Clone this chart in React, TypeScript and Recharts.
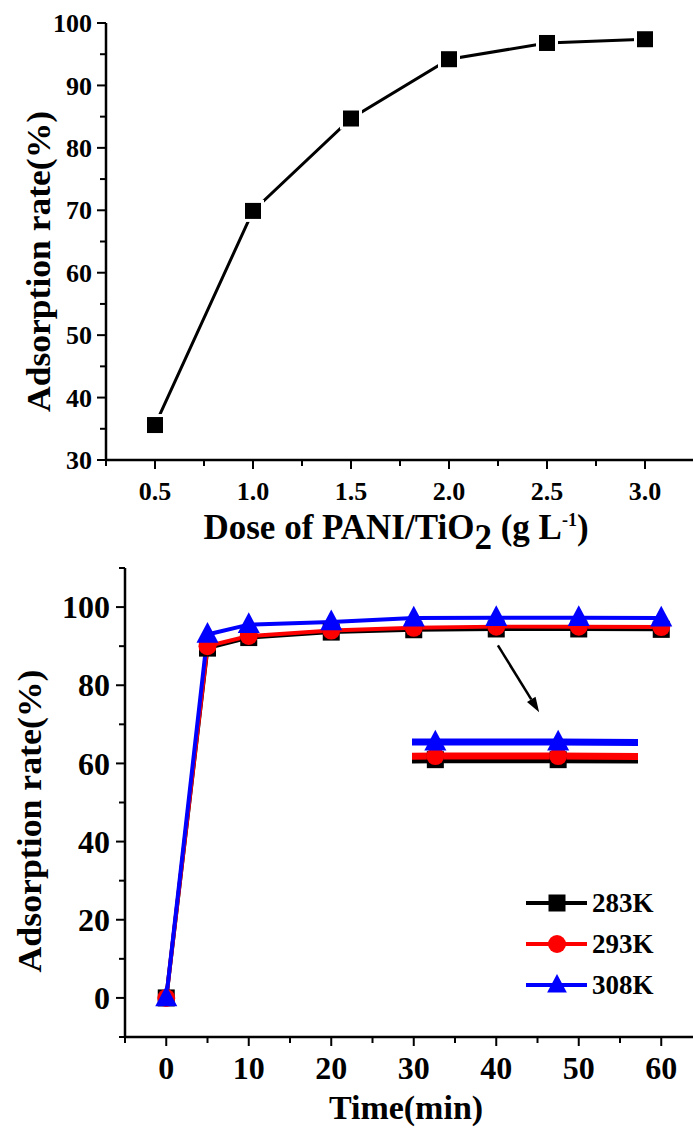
import React from 'react';
import { LineChart, Line, XAxis, YAxis, Label, Legend, ReferenceLine } from 'recharts';

// (a) adsorption rate vs. adsorbent dose
const doseValues = [0.5, 1.0, 1.5, 2.0, 2.5, 3.0];
const doseRate = [35.6, 69.9, 84.7, 94.2, 96.8, 97.4];
const doseTicks = [0.25, 0.5, 0.75, 1.0, 1.25, 1.5, 1.75, 2.0, 2.25, 2.5, 2.75, 3.0, 3.25];
const doseMajor = [0.5, 1.0, 1.5, 2.0, 2.5, 3.0];
const rateTicksA = [30, 35, 40, 45, 50, 55, 60, 65, 70, 75, 80, 85, 90, 95, 100];
const rateMajorA = [30, 40, 50, 60, 70, 80, 90, 100];

// (b) adsorption rate vs. contact time at three temperatures
const timeValues = [0, 5, 10, 20, 30, 40, 50, 60];
const rate283 = [0, 89.5, 92.2, 93.6, 94.2, 94.4, 94.4, 94.3];
const rate293 = [0, 90.0, 92.6, 94.0, 94.7, 95.0, 95.0, 94.9];
const rate308 = [0, 93.0, 95.5, 96.2, 97.2, 97.3, 97.3, 97.2];
const seriesNames = ['283K', '293K', '308K'];
const timeTicks = [-5, 0, 5, 10, 15, 20, 25, 30, 35, 40, 45, 50, 55, 60, 65];
const timeMajor = [0, 10, 20, 30, 40, 50, 60];
const rateTicksB = [-10, 0, 10, 20, 30, 40, 50, 60, 70, 80, 90, 100, 110];
const rateMajorB = [0, 20, 40, 60, 80, 100];

// zoomed detail window and the arrow pointing at it
const zoomTime = [38.1, 56.5];
const zoomRate = [91.06, 104.2];
const arrowFrom = { x: 40.2, y: 90.2 };
const arrowTo = { x: 45.2, y: 73.1 };

const doseData = doseValues.map((d, i) => ({ dose: d, rate: doseRate[i] }));
const timeData = timeValues.map((t, i) => ({ time: t, k283: rate283[i], k293: rate293[i], k308: rate308[i] }));

const FONT = '"Liberation Serif", "Times New Roman", "Noto Sans CJK SC", serif';
const BLACK = '#000000';
const RED = '#ff0000';
const BLUE = '#0000ff';

const fmtDose = (v: number) => v.toFixed(1);
const fmtInt = (v: number) => String(v);

const makeXTick = (majors: number[], fontSize: number, labelDy: number, fmt: (v: number) => string) =>
  (props: any) => {
    const { x, y, payload, index } = props;
    const isMajor = majors.includes(payload.value);
    return (
      <g key={`xt-${index}`}>
        <line x1={x} y1={y} x2={x} y2={y + (isMajor ? 9 : 6)} stroke={BLACK} strokeWidth={2} />
        {isMajor && (
          <text x={x} y={y + labelDy} textAnchor="middle" fontSize={fontSize} fontWeight="bold" fontFamily={FONT} fill={BLACK}>
            {fmt(payload.value)}
          </text>
        )}
      </g>
    );
  };

const makeYTick = (majors: number[], fontSize: number, gap: number, fmt: (v: number) => string) =>
  (props: any) => {
    const { x, y, payload, index } = props;
    const isMajor = majors.includes(payload.value);
    return (
      <g key={`yt-${index}`}>
        <line x1={x} y1={y} x2={x - (isMajor ? 9 : 6)} y2={y} stroke={BLACK} strokeWidth={2} />
        {isMajor && (
          <text x={x - gap} y={y} dy="0.35em" textAnchor="end" fontSize={fontSize} fontWeight="bold" fontFamily={FONT} fill={BLACK}>
            {fmt(payload.value)}
          </text>
        )}
      </g>
    );
  };

type MarkerKind = 'square' | 'circle' | 'triangle';

const marker = (kind: MarkerKind, cx: number, cy: number, color: string, s: number, key?: string) => {
  if (kind === 'square') return <rect key={key} x={cx - s / 2} y={cy - s / 2} width={s} height={s} fill={color} />;
  if (kind === 'circle') return <circle key={key} cx={cx} cy={cy} r={s / 2 + 0.5} fill={color} />;
  const h = s * 1.05;
  return (
    <polygon
      key={key}
      points={`${cx},${cy - h * 0.62} ${cx - s * 0.58},${cy + h * 0.42} ${cx + s * 0.58},${cy + h * 0.42}`}
      fill={color}
    />
  );
};

const dotOf = (kind: MarkerKind, color: string, s: number) => (p: any) => {
  const { cx, cy, index } = p;
  if (cx == null || cy == null) return <g key={`d-${index}`} />;
  return marker(kind, cx, cy, color, s, `d-${index}`);
};

// square with a white halo so the connecting line stops short of it
const haloSquare = (p: any) => {
  const { cx, cy, index } = p;
  if (cx == null || cy == null) return <g key={`h-${index}`} />;
  return (
    <g key={`h-${index}`}>
      <rect x={cx - 11} y={cy - 11} width={22} height={22} fill="#ffffff" />
      <rect x={cx - 8} y={cy - 8} width={16} height={16} fill={BLACK} />
    </g>
  );
};

const kindByKey: Record<string, MarkerKind> = { k283: 'square', k293: 'circle', k308: 'triangle' };

const TempLegend = (props: any) => {
  const { payload } = props;
  return (
    <svg width={170} height={125} style={{ display: 'block' }}>
      {(payload || []).map((e: any, i: number) => {
        const y = 20 + i * 41;
        return (
          <g key={e.value}>
            <line x1={6} y1={y} x2={67} y2={y} stroke={e.color} strokeWidth={4} />
            {marker(kindByKey[e.dataKey], 37, y, e.color, 17)}
            <text x={72} y={y} dy="0.35em" fontSize={27} fontWeight="bold" fontFamily={FONT} fill={BLACK}>
              {e.value}
            </text>
          </g>
        );
      })}
    </svg>
  );
};

const Arrow = (props: any) => {
  const { x1, y1, x2, y2 } = props;
  const ang = Math.atan2(y2 - y1, x2 - x1);
  const len = 15;
  const w = 5;
  const bx = x2 - len * Math.cos(ang);
  const by = y2 - len * Math.sin(ang);
  const px = -Math.sin(ang) * w;
  const py = Math.cos(ang) * w;
  return (
    <g>
      <line x1={x1} y1={y1} x2={bx} y2={by} stroke={BLACK} strokeWidth={2.5} />
      <polygon points={`${x2},${y2} ${bx + px},${by + py} ${bx - px},${by - py}`} fill={BLACK} />
    </g>
  );
};

const axisLine = { stroke: BLACK, strokeWidth: 2.5 };

const DosePanel = () => (
  <LineChart width={700} height={560} data={doseData} margin={{ top: 23, right: 6, bottom: 0, left: 0 }}>
    <XAxis
      dataKey="dose"
      type="number"
      domain={[0.25, 3.25]}
      ticks={doseTicks}
      interval={0}
      tickSize={0}
      tickMargin={0}
      tickLine={false}
      axisLine={axisLine}
      height={100}
      tick={makeXTick(doseMajor, 26, 40, fmtDose)}
    >
      <Label
        content={(p: any) => {
          const vb = p.viewBox;
          const cx = vb.x + vb.width / 2 - 4;
          const by = vb.y + 79;
          return (
            <text x={cx} y={by} textAnchor="middle" fontSize={35} fontWeight="bold" fontFamily={FONT} fill={BLACK}>
              <tspan>Dose of PANI/TiO</tspan>
              <tspan dy={10}>2</tspan>
              <tspan dy={-10}> (g L</tspan>
              <tspan dy={-13} fontSize={18}>-1</tspan>
              <tspan dy={13}>)</tspan>
            </text>
          );
        }}
      />
    </XAxis>
    <XAxis xAxisId="frame" orientation="top" dataKey="dose" type="number" domain={[0.25, 3.25]} tick={false} tickLine={false} axisLine={axisLine} height={0}>
      <Label
        content={(p: any) => (
          <text x={p.viewBox.x + 16} y={p.viewBox.y + 40} fontSize={32} fontWeight="bold" fontFamily={FONT} fill={BLACK}>
            a)
          </text>
        )}
      />
    </XAxis>
    <YAxis
      type="number"
      domain={[30, 100]}
      ticks={rateTicksA}
      interval={0}
      tickSize={0}
      tickMargin={0}
      tickLine={false}
      axisLine={axisLine}
      width={106}
      tick={makeYTick(rateMajorA, 26, 14, fmtInt)}
    >
      <Label
        content={(p: any) => {
          const vb = p.viewBox;
          const bx = 50;
          const cy = vb.y + vb.height / 2 + 20;
          return (
            <text x={bx} y={cy} transform={`rotate(-90, ${bx}, ${cy})`} textAnchor="middle" fontSize={34} fontWeight="bold" fontFamily={FONT} fill={BLACK} textLength={301} lengthAdjust="spacingAndGlyphs">
              Adsorption rate(%)
            </text>
          );
        }}
      />
    </YAxis>
    <YAxis yAxisId="frame" orientation="right" type="number" domain={[30, 100]} tick={false} tickLine={false} axisLine={{ stroke: BLACK, strokeWidth: 2 }} width={0} />
    <Line dataKey="rate" stroke={BLACK} strokeWidth={3} dot={haloSquare} activeDot={false} isAnimationActive={false} />
  </LineChart>
);

const TimePanel = () => (
  <LineChart width={720} height={591} data={timeData} margin={{ top: 28, right: 17.5, bottom: 0, left: 0 }}>
    <XAxis
      dataKey="time"
      type="number"
      domain={[-5, 65]}
      ticks={timeTicks}
      interval={0}
      tickSize={0}
      tickMargin={0}
      tickLine={false}
      axisLine={axisLine}
      height={94}
      tick={makeXTick(timeMajor, 32, 42, fmtInt)}
    >
      <Label
        content={(p: any) => (
          <text x={406} y={p.viewBox.y + 82} textAnchor="middle" fontSize={34} fontWeight="bold" fontFamily={FONT} fill={BLACK}>
            Time(min)
          </text>
        )}
      />
    </XAxis>
    <XAxis xAxisId="frame" orientation="top" dataKey="time" type="number" domain={[-5, 65]} tick={false} tickLine={false} axisLine={axisLine} height={0}>
      <Label
        content={(p: any) => (
          <text x={p.viewBox.x + 23} y={p.viewBox.y + 45} fontSize={30} fontWeight="bold" fontFamily={FONT} fill={BLACK}>
            b）
          </text>
        )}
      />
    </XAxis>
    <YAxis
      type="number"
      domain={[-10, 110]}
      ticks={rateTicksB}
      interval={0}
      tickSize={0}
      tickMargin={0}
      tickLine={false}
      axisLine={axisLine}
      width={125}
      tick={makeYTick(rateMajorB, 32, 15, fmtInt)}
    >
      <Label
        content={(p: any) => {
          const vb = p.viewBox;
          const bx = 41;
          const cy = vb.y + vb.height / 2 + 18.5;
          return (
            <text x={bx} y={cy} transform={`rotate(-90, ${bx}, ${cy})`} textAnchor="middle" fontSize={34} fontWeight="bold" fontFamily={FONT} fill={BLACK} textLength={303} lengthAdjust="spacingAndGlyphs">
              Adsorption rate(%)
            </text>
          );
        }}
      />
    </YAxis>
    <YAxis yAxisId="frame" orientation="right" type="number" domain={[-10, 110]} tick={false} tickLine={false} axisLine={axisLine} width={0} />
    <ReferenceLine segment={[arrowFrom, arrowTo]} shape={Arrow} />
    <Legend
      layout="vertical"
      align="center"
      verticalAlign="middle"
      content={TempLegend}
      wrapperStyle={{ left: 520, top: 343, width: 170, height: 125 }}
    />
    <Line dataKey="k283" name={seriesNames[0]} stroke={BLACK} strokeWidth={4} dot={dotOf('square', BLACK, 17)} activeDot={false} isAnimationActive={false} />
    <Line dataKey="k293" name={seriesNames[1]} stroke={RED} strokeWidth={4} dot={dotOf('circle', RED, 17)} activeDot={false} isAnimationActive={false} />
    <Line dataKey="k308" name={seriesNames[2]} stroke={BLUE} strokeWidth={4} dot={dotOf('triangle', BLUE, 19)} activeDot={false} isAnimationActive={false} />
  </LineChart>
);

// magnified copy of the plateau around 40-50 min
const ZoomInset = () => (
  <LineChart width={226} height={80} data={timeData} margin={{ top: 0, right: 0, bottom: 0, left: 0 }}>
    <XAxis dataKey="time" type="number" domain={zoomTime} allowDataOverflow hide />
    <YAxis type="number" domain={zoomRate} allowDataOverflow hide />
    <Line dataKey="k283" stroke={BLACK} strokeWidth={7} dot={dotOf('square', BLACK, 17)} activeDot={false} isAnimationActive={false} />
    <Line dataKey="k293" stroke={RED} strokeWidth={7} dot={dotOf('circle', RED, 17)} activeDot={false} isAnimationActive={false} />
    <Line dataKey="k308" stroke={BLUE} strokeWidth={7} dot={dotOf('triangle', BLUE, 19)} activeDot={false} isAnimationActive={false} />
  </LineChart>
);

export default function App() {
  return (
    <div style={{ position: 'absolute', left: 0, top: 0, width: 693, height: 1131, overflow: 'hidden', background: '#ffffff' }}>
      <div style={{ position: 'absolute', left: 0, top: 0 }}>
        <DosePanel />
      </div>
      <div style={{ position: 'absolute', left: 0, top: 540 }}>
        <TimePanel />
      </div>
      <div style={{ position: 'absolute', left: 412, top: 700 }}>
        <ZoomInset />
      </div>
    </div>
  );
}
